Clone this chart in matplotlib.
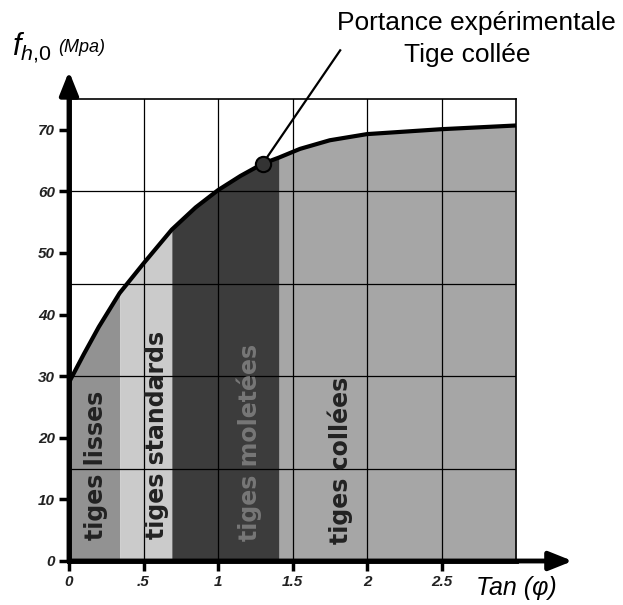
import numpy as np
import matplotlib
matplotlib.use("Agg")
import matplotlib.pyplot as plt

plt.rcParams['font.family'] = ['Liberation Sans', 'DejaVu Sans']
plt.rcParams['mathtext.fontset'] = 'custom'
plt.rcParams['mathtext.it'] = 'Liberation Sans:italic'
plt.rcParams['mathtext.rm'] = 'Liberation Sans'

# ---- data ----
tan_phi = [0, 0.05, 0.1, 0.2, 0.34, 0.5, 0.69, 0.85, 1.0, 1.15, 1.3, 1.41, 1.55, 1.75, 2.0, 2.5, 3.0]
f_h0 = [29, 31.3, 33.6, 38.0, 43.5, 48.3, 53.8, 57.4, 60.2, 62.5, 64.5, 65.5, 66.9, 68.3, 69.3, 70.1, 70.7]

zone_names = ["tiges lisses", "tiges standards", "tiges moletées", "tiges collées"]
zone_bounds = [(0, 0.34), (0.34, 0.69), (0.69, 1.41), (1.41, 3.0)]
zone_colors = ["#929292", "#cbcbcb", "#3c3c3c", "#a6a6a6"]
zone_text_colors = ["#222222", "#222222", "#777777", "#222222"]
zone_label_pos = [(0.18, 15.5), (0.59, 20.5), (1.21, 19.2), (1.82, 16.3)]

exp_point = (1.30, 64.5)

y_ticks = [0, 10, 20, 30, 40, 50, 60, 70]
x_ticks = [0, 0.5, 1, 1.5, 2, 2.5]
x_tick_labels = ["0", ".5", "1", "1.5", "2", "2.5"]
grid_x = [0.5, 1.0, 1.5, 2.0, 2.5]
grid_y = [15, 30, 45, 60]

# ---- figure ----
W, H = 623, 605
fig = plt.figure(figsize=(W / 100, H / 100), dpi=100)
ax = fig.add_axes([69 / W, 1 - 561 / H, 447 / W, 462 / H])
ax.set_xlim(0, 3)
ax.set_ylim(0, 75)

x = np.array(tan_phi)
y = np.array(f_h0)
for (a, b), c in zip(zone_bounds, zone_colors):
    m = (x >= a - 1e-9) & (x <= b + 1e-9)
    ax.fill_between(x, 0, y, where=m, color=c, lw=0, zorder=1)

for gx in grid_x:
    ax.axvline(gx, color='black', lw=0.9, zorder=2)
for gy in grid_y:
    ax.axhline(gy, color='black', lw=0.9, zorder=2)

ax.plot(x, y, color='black', lw=3, zorder=4, solid_capstyle='round',
        solid_joinstyle='round')

for name, (lx, ly), tc in zip(zone_names, zone_label_pos, zone_text_colors):
    ax.text(lx, ly, name, rotation=90, ha='center', va='center', color=tc,
            fontsize=17, fontfamily='DejaVu Sans', fontweight='bold', zorder=3)

# annotation line + dot
ax.plot([exp_point[0], 1.82], [exp_point[1], 82.9], color='black', lw=1.6,
        clip_on=False, zorder=5)
ax.plot([exp_point[0]], [exp_point[1]], 'o', ms=11, mfc='#333333', mec='black',
        mew=1.5, zorder=6, clip_on=False)

# spines
for s in ['top', 'right']:
    ax.spines[s].set_linewidth(1.2)
for s in ['left', 'bottom']:
    ax.spines[s].set_linewidth(3.5)
    ax.spines[s].set_zorder(7)

# axis arrows
ax.annotate('', xy=(0, 79.5), xytext=(0, 0), annotation_clip=False,
            arrowprops=dict(arrowstyle='-|>,head_length=1.0,head_width=0.4',
                            lw=3.5, color='black', shrinkA=0, shrinkB=0,
                            mutation_scale=14))
ax.annotate('', xy=(3.38, 0), xytext=(0, 0), annotation_clip=False,
            arrowprops=dict(arrowstyle='-|>,head_length=1.0,head_width=0.4',
                            lw=3.5, color='black', shrinkA=0, shrinkB=0,
                            mutation_scale=14))

ax.set_yticks(y_ticks)
ax.set_yticklabels([str(v) for v in y_ticks])
ax.set_xticks(x_ticks)
ax.set_xticklabels(x_tick_labels)
ax.tick_params(direction='out', length=7, width=2.5, pad=3)
for lab in ax.get_xticklabels() + ax.get_yticklabels():
    lab.set_fontsize(11)
    lab.set_fontweight('bold')
    lab.set_fontstyle('italic')
    lab.set_color('#222222')

# axis titles
fig.text(12 / W, 1 - 55 / H, r'$f_{h{,}0}$', fontsize=22, ha='left', va='baseline')
fig.text(58 / W, 1 - 48 / H, '(Mpa)', fontsize=13, fontstyle='italic', ha='left', va='center')
fig.text(516 / W, 1 - 588 / H, 'Tan (φ)', fontsize=18, fontstyle='italic', ha='center', va='center')

fig.text(476 / W, 1 - 23 / H, 'Portance expérimentale', fontsize=19, ha='center', va='center')
fig.text(467 / W, 1 - 55 / H, 'Tige collée', fontsize=19, ha='center', va='center')

fig.savefig('out.png', dpi=100)
